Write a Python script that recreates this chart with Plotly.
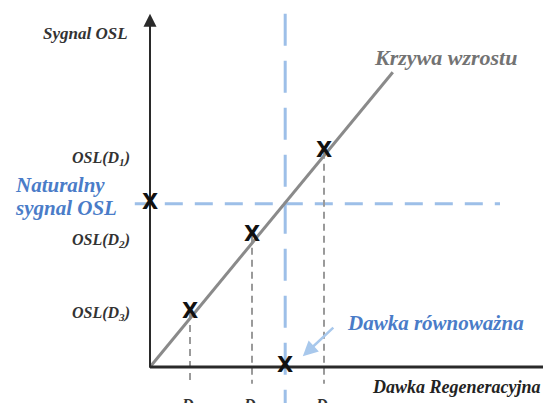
import plotly.graph_objects as go

# Growth curve (regenerated dose vs OSL signal), arbitrary units
curve_dose = [0.0, 6.07]
curve_osl = [0.0, 7.37]

# Regeneration points D3, D2, D1
regen_labels = ["D<sub>3</sub>", "D<sub>2</sub>", "D<sub>1</sub>"]
regen_osl_labels = ["OSL(D<sub>3</sub>)", "OSL(D<sub>2</sub>)", "OSL(D<sub>1</sub>)"]
regen_dose = [1.0, 2.55, 4.35]
regen_osl = [1.35, 3.28, 5.38]

# Natural signal and equivalent dose
natural_osl = 4.08
equiv_dose = 3.38

SERIF = "Liberation Serif"
BLUE_LINE = "#9dbfe8"
BLUE_TEXT = "#4a7cc8"
DARK = "#2a2a2a"

fig = go.Figure()

# blue dashed guide lines
fig.add_trace(go.Scatter(
    x=[-0.38, 8.75], y=[natural_osl, natural_osl],
    mode="lines", line=dict(color=BLUE_LINE, width=3, dash="18px,12px"),
    hoverinfo="skip", showlegend=False
))
fig.add_trace(go.Scatter(
    x=[equiv_dose, equiv_dose], y=[8.83, -1.2],
    mode="lines", line=dict(color=BLUE_LINE, width=3, dash="32px,15px"),
    hoverinfo="skip", showlegend=False
))

# gray dashed drop lines from regeneration points
for d, s in zip(regen_dose, regen_osl):
    fig.add_trace(go.Scatter(
        x=[d, d], y=[s, -0.42],
        mode="lines", line=dict(color="#9a9a9a", width=2, dash="7px,5px"),
        hoverinfo="skip", showlegend=False
    ))

# growth curve
fig.add_trace(go.Scatter(
    x=curve_dose, y=curve_osl,
    mode="lines", line=dict(color="#8a8a8a", width=3),
    hoverinfo="skip", showlegend=False
))

# axes
fig.add_trace(go.Scatter(
    x=[0, 0], y=[-0.02, 8.5],
    mode="lines", line=dict(color=DARK, width=2),
    hoverinfo="skip", showlegend=False
))
fig.add_trace(go.Scatter(
    x=[0, 10.3], y=[0, 0],
    mode="lines", line=dict(color=DARK, width=3),
    hoverinfo="skip", showlegend=False
))
fig.add_annotation(
    x=0, y=8.83, ax=0, ay=8.0, xref="x", yref="y", axref="x", ayref="y",
    showarrow=True, arrowhead=2, arrowsize=1.3, arrowwidth=2, arrowcolor=DARK, text=""
)

# X markers
marker_x = regen_dose + [0.0, equiv_dose]
marker_y = regen_osl + [natural_osl, 0.0]
fig.add_trace(go.Scatter(
    x=marker_x, y=marker_y, mode="text", text=["<b>X</b>"] * len(marker_x),
    textfont=dict(family="DejaVu Sans", size=21, color="#111111"),
    textposition="middle center", hoverinfo="skip", showlegend=False
))

# labels
fig.add_annotation(x=-0.5, y=8.35, text="<b><i>Sygnal OSL</i></b>", showarrow=False,
                   xanchor="right", font=dict(family=SERIF, size=17, color="#333333"))
for lab, s in zip(regen_osl_labels, [1.35, 3.17, 5.22]):
    fig.add_annotation(x=-0.45, y=s, text="<b><i>" + lab + "</i></b>", showarrow=False,
                       xanchor="right", font=dict(family=SERIF, size=16, color="#333333"))
for lab, d in zip(regen_labels, regen_dose):
    fig.add_annotation(x=d, y=-0.68, text="<b><i>" + lab + "</i></b>", showarrow=False,
                       yanchor="top", font=dict(family=SERIF, size=16, color="#333333"))

fig.add_annotation(x=-3.43, y=4.55, text="<b><i>Naturalny</i></b>", showarrow=False,
                   xanchor="left", font=dict(family=SERIF, size=21, color=BLUE_TEXT))
fig.add_annotation(x=-3.43, y=3.98, text="<b><i>sygnal OSL</i></b>", showarrow=False,
                   xanchor="left", font=dict(family=SERIF, size=21, color=BLUE_TEXT))
fig.add_annotation(x=5.55, y=7.75, text="<b><i>Krzywa wzrostu</i></b>", showarrow=False,
                   xanchor="left", font=dict(family=SERIF, size=22, color="#737373"))
fig.add_annotation(x=4.87, y=1.1, text="<b><i>Dawka równoważna</i></b>", showarrow=False,
                   xanchor="left", font=dict(family=SERIF, size=21, color=BLUE_TEXT))
fig.add_annotation(x=9.8, y=-0.5, text="<b><i>Dawka Regeneracyjna</i></b>", showarrow=False,
                   xanchor="right", font=dict(family=SERIF, size=18, color="#222222"))

# arrow pointing to the equivalent dose
fig.add_annotation(
    x=3.82, y=0.27, ax=4.62, ay=1.02, xref="x", yref="y", axref="x", ayref="y",
    showarrow=True, arrowhead=2, arrowsize=1.2, arrowwidth=2.5, arrowcolor="#a8c8ec", text=""
)

# the page adds an 8px body margin, so ranges are shifted to line up with the window
fig.update_layout(
    width=551, height=403,
    margin=dict(l=0, r=0, t=0, b=0),
    plot_bgcolor="white", paper_bgcolor="white",
    xaxis=dict(visible=False, range=[-3.55, 10.225], fixedrange=True),
    yaxis=dict(visible=False, range=[-1.1, 8.975], fixedrange=True),
    showlegend=False,
)

fig.write_html("out.html")
